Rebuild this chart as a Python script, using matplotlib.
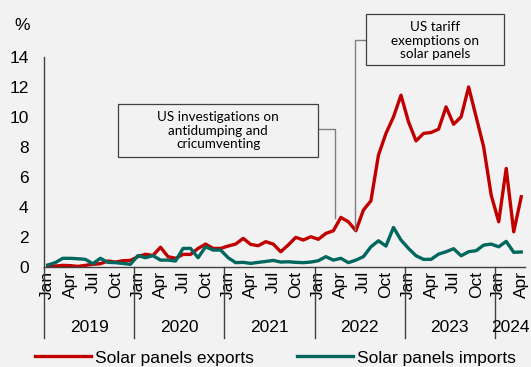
import numpy as np
import matplotlib
matplotlib.use("Agg")
import matplotlib.pyplot as plt
from matplotlib.patches import Rectangle

# monthly share, Jan 2019 - Apr 2024
exports = [0.07, 0.04, 0.09, 0.07, 0.02, 0.09, 0.16, 0.20, 0.38, 0.31, 0.40, 0.42,
           0.67, 0.83, 0.75, 1.30, 0.67, 0.56, 0.82, 0.82, 1.22, 1.51, 1.22, 1.22,
           1.38, 1.51, 1.89, 1.49, 1.40, 1.67, 1.51, 1.00, 1.45, 1.96, 1.78, 2.00,
           1.83, 2.22, 2.40, 3.29, 3.00, 2.40, 3.78, 4.40, 7.45, 8.90, 10.00, 11.45,
           9.67, 8.40, 8.90, 8.96, 9.18, 10.67, 9.51, 10.00, 12.00, 10.00, 8.00, 4.78,
           3.00, 6.56, 2.33, 4.67]
imports = [0.11, 0.27, 0.56, 0.56, 0.53, 0.49, 0.20, 0.56, 0.29, 0.27, 0.22, 0.16,
           0.74, 0.60, 0.74, 0.44, 0.44, 0.38, 1.22, 1.22, 0.60, 1.33, 1.11, 1.11,
           0.60, 0.27, 0.29, 0.22, 0.29, 0.35, 0.42, 0.31, 0.33, 0.29, 0.27, 0.31,
           0.40, 0.67, 0.44, 0.56, 0.27, 0.44, 0.67, 1.33, 1.73, 1.38, 2.62, 1.78,
           1.22, 0.73, 0.49, 0.49, 0.84, 1.00, 1.20, 0.73, 1.00, 1.07, 1.44, 1.51,
           1.33, 1.69, 0.96, 0.98]
years = ["2019", "2020", "2021", "2022", "2023", "2024"]
months_per_year = [12, 12, 12, 12, 12, 4]
month_names = ["Jan", "Apr", "Jul", "Oct"]
yticks = [0, 2, 4, 6, 8, 10, 12, 14]

BG = "#f2f2f2"
RED = "#c00000"
TEAL = "#00675e"
FS = 12.5
plt.rcParams["font.family"] = ["Liberation Sans", "DejaVu Sans"]

fig = plt.figure(figsize=(5.31, 3.67), dpi=100, facecolor=BG)
W, H = 531, 367
ax = fig.add_axes([44 / W, 1 - 266.7 / H, (525 - 44) / W, (266.7 - 57) / H])
ax.set_facecolor(BG)

x = np.arange(len(exports))
ax.plot(x, exports, color=RED, lw=2.4, label="Solar panels exports", solid_joinstyle="round")
ax.plot(x, imports, color=TEAL, lw=2.4, label="Solar panels imports", solid_joinstyle="round")

ax.set_xlim(-0.5, len(exports) - 0.5)
ax.set_ylim(0, 14)
ax.set_yticks(yticks)
ax.tick_params(axis="y", length=0, pad=11, labelsize=FS)

# month ticks
pos, labs = [], []
start = 0
for n in months_per_year:
    for m in range(0, n, 3):
        pos.append(start + m)
        labs.append(month_names[m // 3])
    start += n
ax.set_xticks(pos)
ax.set_xticklabels(labs, rotation=90, fontsize=FS)
ax.tick_params(axis="x", length=0, pad=3)

for s in ["top", "right"]:
    ax.spines[s].set_visible(False)
for s in ["left", "bottom"]:
    ax.spines[s].set_color("#404040")
    ax.spines[s].set_linewidth(1)

# year separators and labels
trans = ax.get_xaxis_transform()
start = 0
for yr, n in zip(years, months_per_year):
    ax.plot([start - 0.5, start - 0.5], [0, -0.34], transform=trans, color="#404040",
            lw=1, clip_on=False)
    ax.text(start + (n - 1) / 2, -0.29, yr, transform=trans, ha="center", va="center",
            fontsize=FS)
    start += n

fig.text(21.7 / W, 1 - 25 / H, "%", ha="center", va="center", fontsize=FS)

# annotations
box_font = ["Lato", "DejaVu Sans"]
ax.add_patch(Rectangle((9.38, 7.35), 26.59, 3.54, facecolor=BG, edgecolor="#404040",
                       lw=0.9, clip_on=False, zorder=3))
ax.text(22.68, 9.08, "US investigations on\nantidumping and\ncricumventing", ha="center",
        va="center", fontsize=9.7, family=box_font, linespacing=1.12, zorder=4)
ax.plot([35.97, 38.19, 38.19], [9.16, 9.16, 3.23], color="#808080", lw=1, zorder=2)

ax.add_patch(Rectangle((42.32, 13.45), 18.35, 3.44, facecolor=BG, edgecolor="#404040",
                       lw=0.9, clip_on=False, zorder=3))
ax.text(51.5, 15.1, "US tariff\nexemptions on\nsolar panels", ha="center", va="center",
        fontsize=9.7, family=box_font, linespacing=1.12, zorder=4, clip_on=False)
ax.plot([42.32, 40.86, 40.86], [15.16, 15.16, 2.45], color="#808080", lw=1, zorder=2,
        clip_on=False)

fig.legend(loc="center", bbox_to_anchor=(0.519, 1 - 358 / H), ncol=2, frameon=False,
           fontsize=FS, handlelength=3.2, handletextpad=0.25, columnspacing=2.5)

fig.savefig("out.png", dpi=100, facecolor=BG)
